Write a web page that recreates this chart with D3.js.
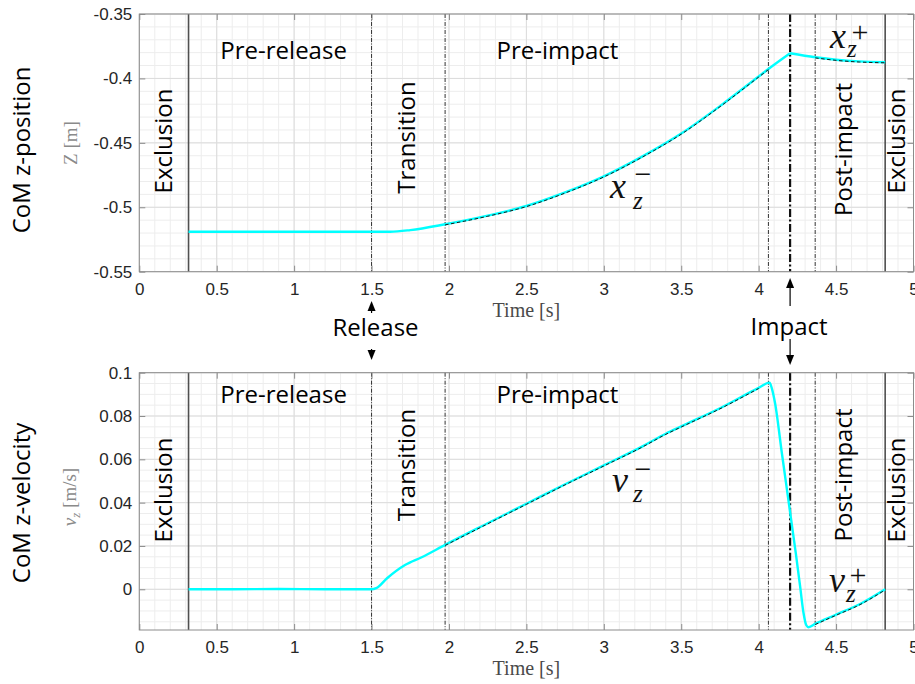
<!DOCTYPE html>
<html><head><meta charset="utf-8">
<script src="https://cdn.jsdelivr.net/npm/d3@7"></script>
<style>body{margin:0;background:#fff;} svg{display:block;}</style>
</head><body>
<svg id="c" width="915" height="684"></svg>
<script>
// ---------- data ----------
const timeTicks = [0, 0.5, 1, 1.5, 2, 2.5, 3, 3.5, 4, 4.5, 5];
const zTicks = [-0.55, -0.5, -0.45, -0.4, -0.35];
const vTicks = [0, 0.02, 0.04, 0.06, 0.08, 0.1];

const zTime = [0.318, 0.8, 1.2, 1.5, 1.62, 1.75, 1.975, 2.25, 2.5, 2.75, 3.0, 3.25, 3.5, 3.75, 4.0, 4.063, 4.203, 4.365, 4.5, 4.65, 4.817];
const zVal  = [-0.519, -0.519, -0.519, -0.519, -0.519, -0.5177, -0.5132, -0.5065, -0.4990, -0.4885, -0.4760, -0.4605, -0.4428, -0.4215, -0.3985, -0.3927, -0.3805, -0.3836, -0.3855, -0.3868, -0.3874];

const vTime = [0.318, 0.6, 0.9, 1.2, 1.5, 1.53, 1.6, 1.716, 1.824, 1.975, 2.25, 2.5, 2.75, 3.0, 3.25, 3.4, 3.5, 3.75, 4.0, 4.07, 4.085, 4.106, 4.150, 4.195, 4.240, 4.268, 4.290, 4.307, 4.322, 4.365, 4.494, 4.655, 4.817];
const vVal  = [0, 0, 0.0001, 0, 0, 0.0005, 0.0051, 0.0112, 0.0148, 0.0205, 0.0305, 0.0395, 0.0485, 0.0572, 0.0660, 0.0718, 0.0752, 0.0836, 0.0930, 0.0954, 0.0928, 0.0859, 0.0628, 0.0397, 0.0166, 0.0012, -0.0111, -0.0165, -0.0175, -0.0160, -0.0119, -0.0068, 0.0];

const exclusionT = [0.318, 4.817];
const boundaryT = [1.5, 1.975, 4.063, 4.365];
const impactT = [4.203];
const preFitRange = [1.975, 4.063];
const postFitRange = [4.365, 4.817];

const phaseNames = ["Exclusion", "Pre-release", "Transition", "Pre-impact", "Post-impact", "Exclusion"];
const panelTitles = ["CoM z-position", "CoM z-velocity"];
const eventNames = ["Release", "Impact"];

// ---------- layout ----------
const svg = d3.select("#c");
const x = d3.scaleLinear().domain([0, 5]).range([139.3, 913.5]);
const yz = d3.scaleLinear().domain([-0.55, -0.35]).range([271.7, 14]);
const yv = d3.scaleLinear().domain([-0.0188, 0.1]).range([630, 372.7]);

const panels = [
  { y: yz, ticks: zTicks, minor: yz.ticks(20), t: zTime, v: zVal, split: impactT[0], title: panelTitles[0], titleY: 150,
    phaseY: { top: 59, ex: 141, tr: 137.5, post: 149.5 } },
  { y: yv, ticks: vTicks, minor: yv.ticks(24), t: vTime, v: vVal, split: null, title: panelTitles[1], titleY: 503,
    phaseY: { top: 403, ex: 490, tr: 465, post: 475 } }
];

const fontSans = "'Liberation Sans', Arial, Helvetica, sans-serif";
const fontLabel = "'Open Sans', 'Noto Sans', sans-serif";
const fontSerif = "'Liberation Serif', 'Times New Roman', serif";

panels.forEach((p, pi) => {
  const y = p.y;
  const [x0, x1] = x.range();
  const [yb, yt] = y.range();
  const g = svg.append("g");

  // minor grid
  g.append("g").selectAll("line").data(x.ticks(50)).join("line")
    .attr("x1", d => x(d)).attr("x2", d => x(d)).attr("y1", yt).attr("y2", yb)
    .attr("stroke", "#ededed").attr("stroke-width", 1);
  g.append("g").selectAll("line").data(p.minor).join("line")
    .attr("x1", x0).attr("x2", x1).attr("y1", d => y(d)).attr("y2", d => y(d))
    .attr("stroke", "#ededed").attr("stroke-width", 1);
  // major grid
  g.append("g").selectAll("line").data(timeTicks).join("line")
    .attr("x1", d => x(d)).attr("x2", d => x(d)).attr("y1", yt).attr("y2", yb)
    .attr("stroke", "#dcdcdc").attr("stroke-width", 1);
  g.append("g").selectAll("line").data(p.ticks).join("line")
    .attr("x1", x0).attr("x2", x1).attr("y1", d => y(d)).attr("y2", d => y(d))
    .attr("stroke", "#dcdcdc").attr("stroke-width", 1);

  // phase lines
  g.append("g").selectAll("line").data(exclusionT).join("line")
    .attr("x1", d => x(d)).attr("x2", d => x(d)).attr("y1", yt).attr("y2", yb)
    .attr("stroke", "#505050").attr("stroke-width", 1.6);
  g.append("g").selectAll("line").data(boundaryT).join("line")
    .attr("x1", d => x(d)).attr("x2", d => x(d)).attr("y1", yt).attr("y2", yb)
    .attr("stroke", "#333").attr("stroke-width", 1).attr("stroke-dasharray", "4,1.5,1,1.5");
  g.append("g").selectAll("line").data(impactT).join("line")
    .attr("x1", d => x(d)).attr("x2", d => x(d)).attr("y1", yt).attr("y2", yb)
    .attr("stroke", "#111").attr("stroke-width", 2.2).attr("stroke-dasharray", "8,2.5,2,2.5");

  // curve
  const pts = p.t.map((t, i) => [t, p.v[i]]);
  const line = d3.line().x(d => x(d[0])).y(d => y(d[1])).curve(d3.curveMonotoneX);
  const segs = p.split == null ? [pts] : [pts.filter(d => d[0] <= p.split), pts.filter(d => d[0] >= p.split)];
  segs.forEach(s => g.append("path").attr("d", line(s)).attr("fill", "none")
    .attr("stroke", "#00ffff").attr("stroke-width", 2.4).attr("stroke-linejoin", "round"));
  // fitted dashed overlays
  [preFitRange, postFitRange].forEach(r => {
    const s = pts.filter(d => d[0] >= r[0] - 1e-9 && d[0] <= r[1] + 1e-9);
    g.append("path").attr("d", line(s)).attr("fill", "none")
      .attr("transform", "translate(0,0.6)")
      .attr("stroke", "#1a1a1a").attr("stroke-width", 1).attr("stroke-dasharray", "3.5,2.5");
  });

  // frame
  g.append("rect").attr("x", x0).attr("y", yt).attr("width", x1 - x0).attr("height", yb - yt)
    .attr("fill", "none").attr("stroke", "#8c8c8c").attr("stroke-width", 1);

  // axes (ticks inside)
  const ax = (gen, tr) => {
    const a = g.append("g").attr("transform", tr).call(gen);
    a.select(".domain").remove();
    a.selectAll("line").attr("stroke", "#8c8c8c");
    a.selectAll("text").attr("fill", "#262626").style("font-family", fontSans).style("font-size", "17px");
    return a;
  };
  ax(d3.axisBottom(x).tickValues(timeTicks).tickSizeInner(-6).tickSizeOuter(0).tickPadding(11).tickFormat(d => String(d)), `translate(0,${yb})`);
  ax(d3.axisTop(x).tickValues(timeTicks).tickSizeInner(-6).tickSizeOuter(0).tickFormat(""), `translate(0,${yt})`);
  ax(d3.axisLeft(y).tickValues(p.ticks).tickSizeInner(-6).tickSizeOuter(0).tickPadding(7).tickFormat(d => String(d)), `translate(${x0},0)`);
  ax(d3.axisRight(y).tickValues(p.ticks).tickSizeInner(-6).tickSizeOuter(0).tickFormat(""), `translate(${x1},0)`);

  // x axis label
  g.append("text").attr("x", x(2.5)).attr("y", yb + 45).attr("text-anchor", "middle")
    .style("font-family", fontSerif).style("font-size", "20px").attr("fill", "#4a4a4a").text("Time [s]");

  // panel title
  g.append("text").attr("transform", `translate(30,${p.titleY}) rotate(-90)`).attr("text-anchor", "middle")
    .style("font-family", fontLabel).style("font-size", "24px").attr("fill", "#000").text(p.title);

  // phase labels
  const hz = (t, yy, txt) => g.append("text").attr("x", x(t)).attr("y", yy).attr("text-anchor", "middle")
    .style("font-family", fontLabel).style("font-size", "24px").attr("fill", "#000").text(txt);
  const vt = (px, yy, txt) => g.append("text").attr("transform", `translate(${px},${yy}) rotate(-90)`).attr("text-anchor", "middle")
    .style("font-family", fontLabel).style("font-size", "24px").attr("fill", "#000").text(txt);
  vt(172, p.phaseY.ex, phaseNames[0]);
  hz(0.932, p.phaseY.top, phaseNames[1]);
  vt(415, p.phaseY.tr, phaseNames[2]);
  hz(2.70, p.phaseY.top, phaseNames[3]);
  vt(852, p.phaseY.post, phaseNames[4]);
  vt(905, p.phaseY.ex, phaseNames[5]);
});

// y axis labels (gray, LaTeX-like)
svg.append("text").attr("transform", "translate(77,143) rotate(-90)").attr("text-anchor", "middle")
  .style("font-family", fontSerif).style("font-size", "19px").attr("fill", "#8a8a8a").text("Z [m]");
const vl = svg.append("text").attr("transform", "translate(76,497) rotate(-90)").attr("text-anchor", "middle")
  .style("font-family", fontSerif).style("font-size", "19px").attr("fill", "#8a8a8a");
vl.append("tspan").style("font-style", "italic").text("v");
vl.append("tspan").style("font-style", "italic").style("font-size", "13px").attr("dy", 4).text("z");
vl.append("tspan").attr("dy", -4).text(" [m/s]");

// math annotations (single text element with positioned tspans)
function mathLabel(base, sign, bx, by, zx, zy, sx, sy) {
  const t = svg.append("text").style("font-family", fontSerif).attr("fill", "#111");
  t.append("tspan").attr("x", bx).attr("y", by).style("font-style", "italic").style("font-size", "36px").text(base);
  t.append("tspan").attr("x", zx).attr("y", zy).style("font-style", "italic").style("font-size", "25px").text("z");
  t.append("tspan").attr("x", sx - 8.5).attr("y", sy).style("font-size", "30px").text(sign);
}
mathLabel("x", "\u2212", 610, 198, 633, 209, 643, 184);
mathLabel("x", "+", 830, 48, 847, 57, 860, 42);
mathLabel("v", "\u2212", 612, 492, 633, 502, 643, 479);
mathLabel("v", "+", 829, 592, 846, 602, 858, 585);

// event arrows
function arrow(px, y1, y2) { // tail y1 -> tip y2
  const dir = y2 > y1 ? 1 : -1;
  svg.append("line").attr("x1", px).attr("x2", px).attr("y1", y1).attr("y2", y2 - dir * 8)
    .attr("stroke", "#000").attr("stroke-width", 1.2);
  svg.append("path").attr("d", `M${px},${y2} L${px - 4},${y2 - dir * 10} L${px + 4},${y2 - dir * 10} Z`).attr("fill", "#000");
}
const rx = x(boundaryT[0]), ix = x(impactT[0]);
arrow(rx, 313, 301);
arrow(rx, 349, 360);
arrow(ix, 306, 278);
arrow(ix, 339, 365);
svg.append("text").attr("x", rx + 4).attr("y", 336).attr("text-anchor", "middle")
  .style("font-family", fontLabel).style("font-size", "24px").text(eventNames[0]);
svg.append("text").attr("x", ix - 1).attr("y", 335).attr("text-anchor", "middle")
  .style("font-family", fontLabel).style("font-size", "24px").text(eventNames[1]);
</script>
</body></html>
